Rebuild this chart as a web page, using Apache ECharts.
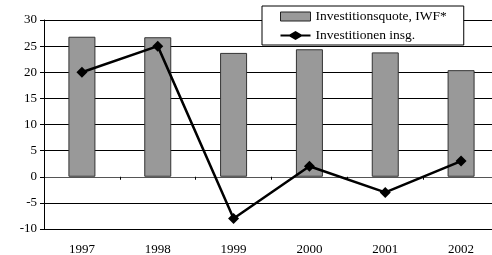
<!DOCTYPE html>
<html><head><meta charset="utf-8">
<script src="https://cdn.jsdelivr.net/npm/echarts@6/dist/echarts.min.js"></script>
<style>html,body{margin:0;padding:0;background:#fff}#c{width:492px;height:255px}</style>
</head><body><div id="c"></div>
<script>
const categories = ['1997','1998','1999','2000','2001','2002'];
const quote = [26.8, 26.7, 23.7, 24.4, 23.8, 20.4];
const invest = [20, 25, -8, 2, -3, 3];
const yTicks = [-10, -5, 0, 5, 10, 15, 20, 25, 30];

const font = "'Liberation Serif', 'Times New Roman', serif";
const chart = echarts.init(document.getElementById('c'), null, {renderer:'canvas'});
chart.setOption({
  animation: false,
  backgroundColor: '#fff',
  textStyle: {fontFamily: font},
  grid: {left: 44, right: -7, top: 20, bottom: 26, containLabel: false, outerBoundsMode: 'none'},
  legend: {
    orient: 'vertical', left: 262, top: 6,
    padding: [3, 17, 2, 18], itemGap: 4,
    itemWidth: 30, itemHeight: 9,
    backgroundColor: '#fff', borderColor: '#000', borderWidth: 1, borderRadius: 0,
    textStyle: {fontFamily: font, fontSize: 13.5, color: '#000', lineHeight: 15},
    data: [
      {name: 'Investitionsquote, IWF*', icon: 'rect', itemStyle: {color: '#999999', borderColor: '#222', borderWidth: 1}},
      {name: 'Investitionen insg.', icon: 'path://M0,3.6 L9,3.6 L15,0 L21,3.6 L30,3.6 L30,5.4 L21,5.4 L15,9 L9,5.4 L0,5.4 Z', itemStyle: {color: '#000', borderWidth: 0}}
    ]
  },
  xAxis: [
    {
      type: 'category', data: categories, position: 'bottom',
      axisLine: {show: false, onZero: false},
      axisTick: {show: false},
      axisLabel: {margin: 14, fontFamily: font, fontSize: 13, color: '#000'},
      splitLine: {show: false}
    },
    {
      type: 'category', data: categories, position: 'bottom',
      axisLine: {show: true, onZero: true, lineStyle: {color: '#555', width: 1}},
      axisTick: {show: true, length: 3, lineStyle: {color: '#000'}},
      axisLabel: {show: false},
      splitLine: {show: false}
    }
  ],
  yAxis: {
    type: 'value', min: yTicks[0], max: yTicks[yTicks.length-1], interval: 5,
    axisLine: {show: true, lineStyle: {color: '#000', width: 1}},
    axisTick: {show: true, length: 4, lineStyle: {color: '#000'}},
    axisLabel: {margin: 7, fontFamily: font, fontSize: 13, color: '#000'},
    splitLine: {show: true, lineStyle: {color: '#000', width: 1}}
  },
  series: [
    {
      name: 'Investitionsquote, IWF*', type: 'bar', data: quote, barWidth: 27, xAxisIndex: 0,
      itemStyle: {color: '#999999', borderColor: '#333', borderWidth: 1}
    },
    {
      name: 'Investitionen insg.', type: 'line', data: invest, xAxisIndex: 0,
      symbol: 'diamond', symbolSize: 11,
      lineStyle: {color: '#000', width: 2.5},
      itemStyle: {color: '#000'}
    }
  ]
});
</script></body></html>
